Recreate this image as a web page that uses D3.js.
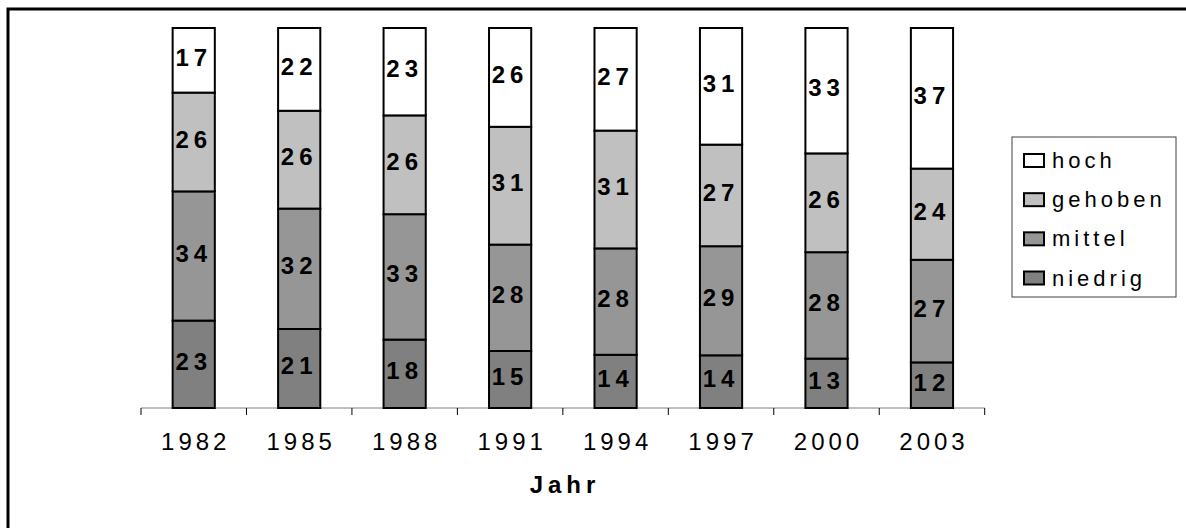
<!DOCTYPE html>
<html><head><meta charset="utf-8">
<script src="https://cdn.jsdelivr.net/npm/d3@7"></script>
<style>body{margin:0;background:#fff}svg{display:block}text{font-family:"Liberation Sans",Arial,sans-serif}</style>
</head><body>
<svg id="c" width="1186" height="528"></svg>
<script>
const years = ["1982","1985","1988","1991","1994","1997","2000","2003"];
const niedrig = [23,21,18,15,14,14,13,12];
const mittel  = [34,32,33,28,28,29,28,27];
const gehoben = [26,26,26,31,31,27,26,24];
const hoch    = [17,22,23,26,27,31,33,37];
const seriesNames = ["niedrig","mittel","gehoben","hoch"];
const seriesColors = ["#808080","#969696","#c0c0c0","#ffffff"];
const xTitle = "Jahr";

const svg = d3.select("#c");
// outer frame
svg.append("rect").attr("x",8).attr("y",9).attr("width",1200).attr("height",540)
  .attr("fill","none").attr("stroke","#000").attr("stroke-width",3);

const rows = years.map((y,i)=>({year:y, niedrig:niedrig[i], mittel:mittel[i], gehoben:gehoben[i], hoch:hoch[i]}));
const stack = d3.stack().keys(seriesNames).offset(d3.stackOffsetExpand)(rows);

const x = d3.scaleBand().domain(years).range([141,984.7]).paddingInner(0.6).paddingOuter(0.3);
const y = d3.scaleLinear().domain([0,1]).range([408,28]);
const color = d3.scaleOrdinal().domain(seriesNames).range(seriesColors);

// axis baseline and boundary ticks
const g = svg.append("g");
g.append("line").attr("x1",141).attr("x2",984.7).attr("y1",408).attr("y2",408).attr("stroke","#808080").attr("stroke-width",1.2);
const half = (x.step()-x.bandwidth())/2;
const tickXs = years.map(d=>x(d)-half).concat([x(years[years.length-1])+x.bandwidth()+half]);
g.selectAll("line.tk").data(tickXs).join("line").attr("class","tk")
  .attr("x1",d=>d).attr("x2",d=>d).attr("y1",408).attr("y2",415).attr("stroke","#000").attr("stroke-width",1);

// bars
const layers = svg.append("g").selectAll("g").data(stack).join("g").attr("fill",d=>color(d.key));
layers.selectAll("rect").data(d=>d).join("rect")
  .attr("x",d=>x(d.data.year)).attr("width",x.bandwidth())
  .attr("y",d=>y(d[1])).attr("height",d=>y(d[0])-y(d[1]))
  .attr("stroke","#000").attr("stroke-width",2);

// data labels
stack.forEach(s=>{
  svg.append("g").selectAll("text").data(s).join("text")
    .attr("x",d=>x(d.data.year)+x.bandwidth()/2)
    .attr("y",d=>(y(d[0])+y(d[1]))/2-3)
    .attr("text-anchor","middle").attr("dominant-baseline","central")
    .style("font-size","24px").style("font-weight","bold").style("letter-spacing","5px")
    .attr("fill","#000").text(d=>d.data[s.key]);
});

// tick labels
const xAxis = d3.axisBottom(x).tickSize(0).tickPadding(0);
const ax = svg.append("g").attr("transform","translate(0,450)").call(xAxis);
ax.select(".domain").remove();
ax.selectAll("text").attr("y",0).attr("dy",0).attr("dx",2)
  .style("font-size","24px").style("letter-spacing","4px").attr("fill","#000");

// axis title
svg.append("text").attr("x",563+2).attr("y",493).attr("text-anchor","middle")
  .style("font-size","24px").style("font-weight","bold").style("letter-spacing","5px").text(xTitle);

// legend
const lg = svg.append("g");
lg.append("rect").attr("x",1012).attr("y",137).attr("width",164).attr("height",160)
  .attr("fill","#fff").attr("stroke","#404040").attr("stroke-width",1);
const legendOrder = seriesNames.slice().reverse();
const ly = d3.scalePoint().domain(legendOrder).range([160.5,278]);
const li = lg.selectAll("g.it").data(legendOrder).join("g").attr("class","it");
li.append("rect").attr("x",1024).attr("width",20).attr("height",13)
  .attr("y",d=>ly(d)-6.5).attr("fill",d=>color(d)).attr("stroke","#000").attr("stroke-width",2);
li.append("text").attr("x",1052).attr("y",d=>ly(d)+7.5)
  .style("font-size","22px").style("letter-spacing","4px").text(d=>d);
</script>
</body></html>
